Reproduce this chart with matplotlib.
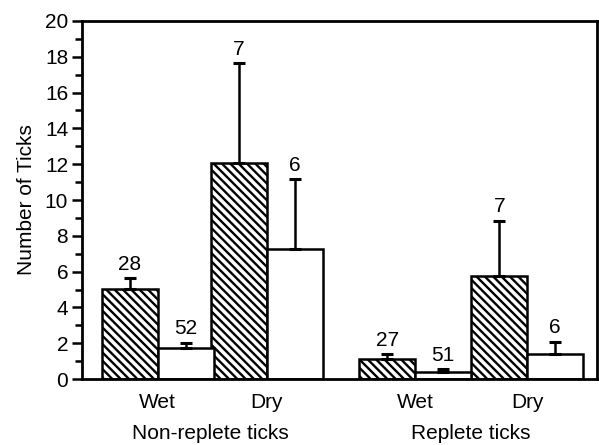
import numpy as np
import matplotlib
matplotlib.use("Agg")
import matplotlib.pyplot as plt
from matplotlib.ticker import MultipleLocator
import matplotlib.transforms as mtransforms

# données
conditions = ["Wet", "Dry", "Wet", "Dry"]
groups = ["Non-replete ticks", "Replete ticks"]
hatched_mean = [5.05, 12.05, 1.12, 5.75]
hatched_err = [0.6, 5.6, 0.3, 3.1]
hatched_n = ["28", "7", "27", "7"]
open_mean = [1.72, 7.25, 0.42, 1.4]
open_err = [0.32, 3.9, 0.12, 0.7]
open_n = ["52", "6", "51", "6"]

pair_pos = np.array([1.35, 3.3, 5.95, 7.95])
group_pos = [2.3, 6.95]
width = 1.0

plt.rcParams["font.family"] = ["Liberation Sans", "DejaVu Sans"]
plt.rcParams["hatch.linewidth"] = 1.7

fig = plt.figure(figsize=(5.99, 4.45), dpi=100)
ax = fig.add_axes([0.137, 0.148, 0.86, 0.805])

ax.bar(pair_pos - width / 2, hatched_mean, width, facecolor="white", edgecolor="black",
       hatch="\\\\\\\\", linewidth=1.8)
ax.bar(pair_pos + width / 2, open_mean, width, facecolor="white", edgecolor="black",
       linewidth=1.8)
ax.errorbar(pair_pos - width / 2, hatched_mean, yerr=[np.zeros(4), hatched_err], fmt="none",
            ecolor="black", elinewidth=1.8, capsize=4, capthick=2.2)
ax.errorbar(pair_pos + width / 2, open_mean, yerr=[np.zeros(4), open_err], fmt="none",
            ecolor="black", elinewidth=1.8, capsize=4, capthick=2.2)

for x, m, e, n in zip(pair_pos - width / 2, hatched_mean, hatched_err, hatched_n):
    ax.annotate(n, (x, m + e), xytext=(0, 3), textcoords="offset points",
                ha="center", va="bottom", fontsize=15)
for x, m, e, n in zip(pair_pos + width / 2, open_mean, open_err, open_n):
    ax.annotate(n, (x, m + e), xytext=(0, 3), textcoords="offset points",
                ha="center", va="bottom", fontsize=15)

ax.set_xlim(0, 9.2)
ax.set_ylim(0, 20)
ax.yaxis.set_major_locator(MultipleLocator(2))
ax.yaxis.set_minor_locator(MultipleLocator(1))
ax.tick_params(axis="y", which="major", length=7, width=1.8, labelsize=15, direction="out", pad=3)
ax.tick_params(axis="y", which="minor", length=5, width=1.8, direction="out")
ax.set_xticks(pair_pos)
ax.set_xticklabels(conditions, fontsize=15)
ax.tick_params(axis="x", length=0, pad=10)
for sp in ax.spines.values():
    sp.set_linewidth(2)

trans = mtransforms.blended_transform_factory(ax.transData, ax.transAxes)
for x, g in zip(group_pos, groups):
    ax.text(x, -0.152, g, transform=trans, ha="center", va="center", fontsize=15)

ax.set_ylabel("Number of Ticks", fontsize=15, labelpad=6)

plt.savefig("out.png", dpi=100)
